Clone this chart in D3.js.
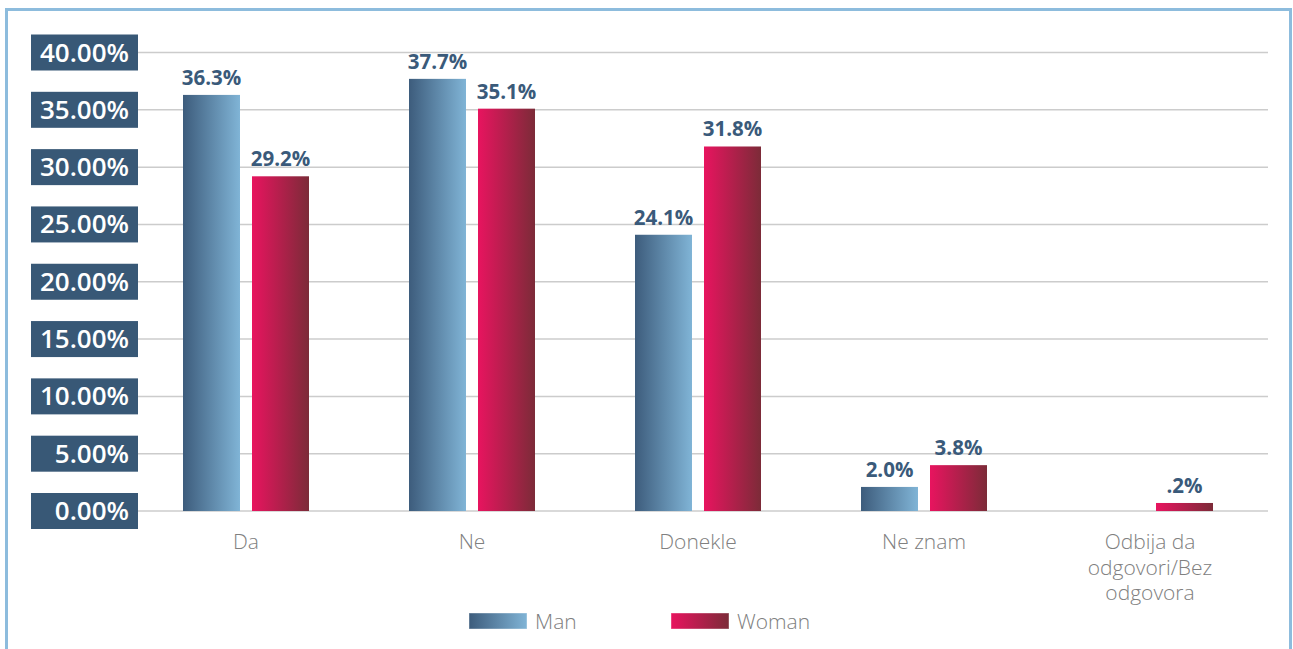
<!DOCTYPE html>
<html>
<head>
<meta charset="utf-8">
<script src="https://cdn.jsdelivr.net/npm/d3@7"></script>
<style>
    body { margin: 0; background: #fff; }
    svg { display: block; font-family: 'Open Sans', sans-serif; }
</style>
</head>
<body>
<div class="chart"></div>
<script>
// data
const categories = ['Da', 'Ne', 'Donekle', 'Ne znam', 'Odbija da|odgovori/Bez|odgovora'];
const series = ['Man', 'Woman'];
const manValues = [36.3, 37.7, 24.1, 2.1, 0];
const womanValues = [29.2, 35.1, 31.8, 4.0, 0.7];
const manLabels = ['36.3%', '37.7%', '24.1%', '2.0%', ''];
const womanLabels = ['29.2%', '35.1%', '31.8%', '3.8%', '.2%'];
const tickValues = [0, 5, 10, 15, 20, 25, 30, 35, 40];

const rows = categories.map((c, i) => ({
    category: c,
    values: [
        { key: 'Man', value: manValues[i], label: manLabels[i] },
        { key: 'Woman', value: womanValues[i], label: womanLabels[i] }
    ]
}));

const width = 1293;
const height = 649;
const svg = d3.select('.chart')
    .append('svg')
    .attr('width', width)
    .attr('height', height);

// gradients
const defs = svg.append('defs');
const gradients = {
    Man: ['#3d5c7c', '#80b4d6'],
    Woman: ['#e8145f', '#7c2b38']
};
Object.keys(gradients).forEach(k => {
    const g = defs.append('linearGradient')
        .attr('id', 'grad-' + k)
        .attr('x1', '0%').attr('x2', '100%')
        .attr('y1', '0%').attr('y2', '0%');
    g.append('stop').attr('offset', '0%').attr('stop-color', gradients[k][0]);
    g.append('stop').attr('offset', '100%').attr('stop-color', gradients[k][1]);
});

// frame
svg.append('rect')
    .attr('x', 6.5)
    .attr('y', 9.5)
    .attr('width', 1284)
    .attr('height', 700)
    .attr('fill', 'none')
    .attr('stroke', '#8dbcdd')
    .attr('stroke-width', 3);

const y = d3.scaleLinear()
    .domain([0, 40])
    .range([511, 52.5]);

const x0 = d3.scaleBand()
    .domain(categories)
    .range([133, 1263]);

const x1 = d3.scaleBand()
    .domain(series)
    .range([-63, 63])
    .paddingInner(0.174);

// gridlines
svg.selectAll('.grid')
    .data(tickValues)
    .enter()
    .append('line')
    .attr('class', 'grid')
    .attr('x1', 138)
    .attr('x2', 1268)
    .attr('y1', d => y(d))
    .attr('y2', d => y(d))
    .attr('stroke', '#cccccc')
    .attr('stroke-width', 1.5);

// y tick boxes
const ticks = svg.selectAll('.tick-box')
    .data(tickValues)
    .enter()
    .append('g')
    .attr('class', 'tick-box')
    .attr('transform', d => `translate(0,${y(d)})`);

ticks.append('rect')
    .attr('x', 31)
    .attr('y', -18)
    .attr('width', 107)
    .attr('height', 36)
    .attr('fill', '#385876');

ticks.append('text')
    .text(d => d3.format('.2f')(d) + '%')
    .attr('x', 129)
    .attr('y', 9)
    .attr('text-anchor', 'end')
    .attr('fill', '#ffffff')
    .attr('font-size', '26px')
    .attr('font-weight', 600);

// bars
const groups = svg.selectAll('.group')
    .data(rows)
    .enter()
    .append('g')
    .attr('class', 'group')
    .attr('transform', d => `translate(${x0(d.category) + x0.bandwidth() / 2},0)`);

groups.selectAll('.bar')
    .data(d => d.values.filter(v => v.value > 0))
    .enter()
    .append('rect')
    .attr('class', 'bar')
    .attr('x', d => x1(d.key))
    .attr('width', x1.bandwidth())
    .attr('y', d => y(d.value))
    .attr('height', d => y(0) - y(d.value))
    .attr('fill', d => `url(#grad-${d.key})`);

groups.selectAll('.value-label')
    .data(d => d.values.filter(v => v.label !== ''))
    .enter()
    .append('text')
    .attr('class', 'value-label')
    .text(d => d.label)
    .attr('x', d => x1(d.key) + x1.bandwidth() / 2)
    .attr('y', d => y(d.value) - 10)
    .attr('text-anchor', 'middle')
    .attr('fill', '#3a5a7a')
    .attr('font-size', '20.5px')
    .attr('font-weight', 700);

// category labels
groups.append('text')
    .attr('class', 'cat-label')
    .attr('text-anchor', 'middle')
    .attr('fill', '#808080')
    .attr('font-size', '21px')
    .attr('font-weight', 300)
    .selectAll('tspan')
    .data(d => d.category.split('|'))
    .enter()
    .append('tspan')
    .attr('x', 0)
    .attr('y', (d, i) => 549 + i * 25.5)
    .text(d => d);

// legend
const legend = svg.selectAll('.legend')
    .data(series)
    .enter()
    .append('g')
    .attr('class', 'legend')
    .attr('transform', (d, i) => `translate(${469 + i * 202},613)`);

legend.append('rect')
    .attr('width', 58)
    .attr('height', 16)
    .attr('fill', d => `url(#grad-${d})`)
    .attr('stroke', '#ffffff')
    .attr('stroke-opacity', 0.4)
    .attr('stroke-width', 1);

legend.append('text')
    .text(d => d)
    .attr('x', 66)
    .attr('y', 16)
    .attr('fill', '#808080')
    .attr('font-size', '21px')
    .attr('font-weight', 300);
</script>
</body>
</html>
